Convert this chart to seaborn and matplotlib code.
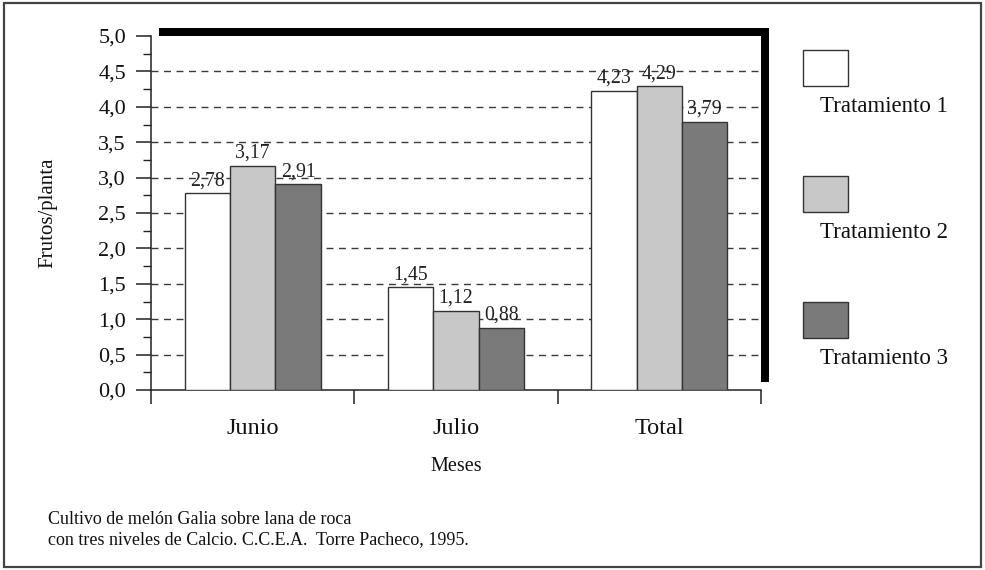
import matplotlib
matplotlib.use("Agg")
import matplotlib.pyplot as plt
from matplotlib.patches import Rectangle
from matplotlib.ticker import FuncFormatter, MultipleLocator, FixedLocator
import pandas as pd
import seaborn as sns

# data
meses = ["Junio", "Julio", "Total"]
tratamientos = ["Tratamiento 1", "Tratamiento 2", "Tratamiento 3"]
trat1 = [2.78, 1.45, 4.23]
trat2 = [3.17, 1.12, 4.29]
trat3 = [2.91, 0.88, 3.79]
colores = ["#ffffff", "#c8c8c8", "#7a7a7a"]

rows = []
for t, vals in zip(tratamientos, [trat1, trat2, trat3]):
    for m, v in zip(meses, vals):
        rows.append([m, t, v])
df = pd.DataFrame(rows, columns=["Meses", "Tratamiento", "Frutos/planta"])

sns.set_theme(style="white")
plt.rcParams["font.family"] = ["Liberation Serif", "DejaVu Serif"]

fig = plt.figure(figsize=(9.85, 5.70), dpi=100)
W, H = 985.0, 570.0
ax = fig.add_axes([151 / W, 1 - 390 / H, 610 / W, 354 / H])

# drop shadow behind the plot area
fig.patches.append(Rectangle((159 / W, 1 - 382 / H), 610 / W, 354 / H,
                             transform=fig.transFigure, facecolor="black",
                             edgecolor="none", zorder=-1))
# outer frame
fig.patches.append(Rectangle((4 / W, 3 / H), 977 / W, 564 / H,
                             transform=fig.transFigure, facecolor="none",
                             edgecolor="#444444", lw=1.6, zorder=-2))

sns.barplot(data=df, x="Meses", y="Frutos/planta", hue="Tratamiento",
            palette=colores, edgecolor="#333333", linewidth=1.0,
            width=0.67, gap=0, legend=False, ax=ax, zorder=3)

for cont in ax.containers:
    ax.bar_label(cont, labels=[f"{b.get_height():.2f}".replace(".", ",") for b in cont],
                 padding=2, fontsize=14.3, color="#222222")

ax.set_ylim(0, 5)
ax.set_xlim(-0.5, 2.5)
ax.yaxis.set_major_locator(MultipleLocator(0.5))
ax.yaxis.set_minor_locator(MultipleLocator(0.25))
ax.yaxis.set_major_formatter(FuncFormatter(lambda v, p: f"{v:.1f}".replace(".", ",")))
for y in [0.5, 1.0, 1.5, 2.0, 2.5, 3.0, 3.5, 4.0, 4.5]:
    ax.axhline(y, color="#3a3a3a", lw=1.0, ls=(0, (5, 4)), zorder=1)

ax.xaxis.set_minor_locator(FixedLocator([-0.5, 0.5, 1.5, 2.5]))
ax.tick_params(axis="x", which="major", length=0, pad=20, labelsize=17.5,
               labelcolor="#111111")
ax.tick_params(axis="x", which="minor", length=10, width=1.1, direction="out",
               color="#222222", bottom=True)
ax.tick_params(axis="y", which="major", length=11, width=1.1, direction="out",
               color="#222222", pad=7, labelsize=16, left=True,
               labelcolor="#111111")
ax.tick_params(axis="y", which="minor", length=6, width=1.0, direction="out",
               color="#222222", left=True)

for s in ["top", "right"]:
    ax.spines[s].set_visible(False)
for s in ["left", "bottom"]:
    ax.spines[s].set_color("#222222")
    ax.spines[s].set_linewidth(1.1)

ax.set_ylabel("Frutos/planta", fontsize=15, color="#111111")
ax.yaxis.set_label_coords(-0.154, 0.5)
ax.set_xlabel("Meses", fontsize=14.5, color="#111111")
ax.xaxis.set_label_coords(0.5, -0.19)

# legend: box above its label
for i, (nombre, col) in enumerate(zip(tratamientos, colores)):
    top = 50 + 126 * i
    fig.patches.append(Rectangle((803 / W, 1 - (top + 36) / H), 45 / W, 36 / H,
                                 transform=fig.transFigure, facecolor=col,
                                 edgecolor="#333333", lw=1.0))
    fig.text(820 / W, 1 - (top + 57) / H, nombre, fontsize=16.5,
             ha="left", va="center", color="#111111")

fig.text(48 / W, 1 - 511 / H,
         "Cultivo de melón Galia sobre lana de roca\n"
         "con tres niveles de Calcio. C.C.E.A.  Torre Pacheco, 1995.",
         fontsize=13, ha="left", va="top", linespacing=1.25, color="#111111")

plt.savefig("out.png", dpi=100)
plt.close()
